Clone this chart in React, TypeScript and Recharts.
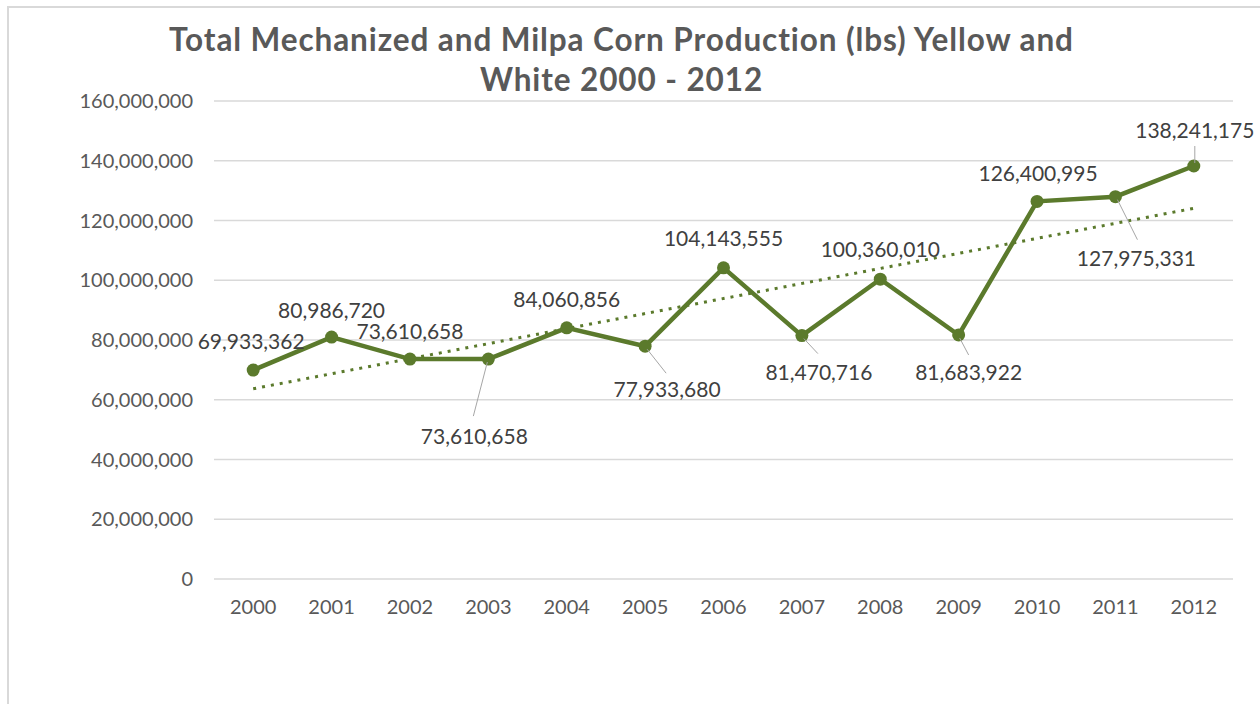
import React from 'react';
import { LineChart, Line, XAxis, YAxis, CartesianGrid, LabelList, ReferenceLine } from 'recharts';

const years = ['2000', '2001', '2002', '2003', '2004', '2005', '2006', '2007', '2008', '2009', '2010', '2011', '2012'];
const production = [
  69933362, 80986720, 73610658, 73610658, 84060856, 77933680, 104143555,
  81470716, 100360010, 81683922, 126400995, 127975331, 138241175,
];
const yTicks = [0, 20000000, 40000000, 60000000, 80000000, 100000000, 120000000, 140000000, 160000000];
const trendStartValue = 63670000;
const trendEndValue = 124090000;

const titleLines = ['Total Mechanized and Milpa Corn Production (lbs) Yellow and', 'White 2000 - 2012'];

const data = years.map((year, i) => ({ year, value: production[i] }));

// label layout (offsets from the point, and optional leader line end)
const labelLayout: { dx: number; dy: number; lx?: number; ly?: number; sx?: number; sy?: number }[] = [
  { dx: -2, dy: -30 },
  { dx: 0, dy: -28 },
  { dx: 0, dy: -29 },
  { dx: -14, dy: 76, sx: -1, sy: 3, lx: -15, ly: 57 },
  { dx: 0, dy: -29 },
  { dx: 22, dy: 42, sx: 2, sy: 3, lx: 21, ly: 27 },
  { dx: 0, dy: -30 },
  { dx: 17, dy: 36, sx: 2, sy: 3, lx: 16, ly: 18 },
  { dx: 0, dy: -31 },
  { dx: 10, dy: 37, sx: 1, sy: 3, lx: 10, ly: 20 },
  { dx: 1, dy: -29 },
  { dx: 21, dy: 61, sx: 2, sy: 3, lx: 22, ly: 43 },
  { dx: 1, dy: -37, sx: 1, sy: -3, lx: 1, ly: -20 },
];

const GREEN = '#5b7a2c';
const FONT = 'Lato, "Open Sans", sans-serif';

const fmt = (v: number) => v.toLocaleString('en-US');

const renderLabel = (props: any) => {
  const { x, y, value, index } = props;
  const l = labelLayout[index] || { dx: 0, dy: -29 };
  return (
    <g key={`lbl-${index}`}>
      {l.lx !== undefined && (
        <line
          x1={x + (l.sx || 0)}
          y1={y + (l.sy || 0)}
          x2={x + l.lx}
          y2={y + (l.ly || 0)}
          stroke="#a6a6a6"
          strokeWidth={1}
        />
      )}
      <text
        x={x + l.dx}
        y={y + l.dy}
        textAnchor="middle"
        dominantBaseline="central"
        fontFamily={FONT}
        fontSize={21}
        fill="#404040"
      >
        {fmt(Number(value))}
      </text>
    </g>
  );
};

export default function App() {
  return (
    <div
      style={{
        position: 'fixed',
        left: 0,
        top: 0,
        width: 1260,
        height: 704,
        background: '#ffffff',
        overflow: 'hidden',
      }}
    >
      <div
        style={{
          position: 'absolute',
          left: 7,
          top: 6,
          width: 1320,
          height: 800,
          border: '2px solid #d9d9d9',
          boxSizing: 'border-box',
        }}
      />
      <div
        style={{
          position: 'absolute',
          left: 0,
          top: 19,
          width: 1243,
          textAlign: 'center',
          fontFamily: FONT,
          fontWeight: 700,
          fontSize: 31.5,
          letterSpacing: 0.9,
          lineHeight: '40px',
          color: '#595959',
        }}
      >
        {titleLines.map((t) => (
          <div key={t}>{t}</div>
        ))}
      </div>
      <div style={{ position: 'absolute', left: 0, top: 0 }}>
        <LineChart
          width={1260}
          height={704}
          data={data}
          margin={{ top: 101, right: 27, bottom: 95, left: 0 }}
        >
          <CartesianGrid horizontal vertical={false} stroke="#d9d9d9" strokeWidth={1.5} />
          <XAxis
            dataKey="year"
            scale="band"
            height={30}
            axisLine={false}
            tickLine={false}
            tickSize={0}
            tickMargin={21}
            tick={{ fill: '#595959', fontSize: 20, fontFamily: FONT }}
            interval={0}
          />
          <YAxis
            width={214}
            domain={[0, 160000000]}
            ticks={yTicks}
            axisLine={false}
            tickLine={false}
            tickSize={0}
            tickMargin={21}
            tickFormatter={fmt}
            tick={{ fill: '#595959', fontSize: 20, fontFamily: FONT }}
            interval={0}
          />
          <Line
            dataKey="value"
            stroke={GREEN}
            strokeWidth={4.5}
            dot={{ r: 6.5, fill: GREEN, stroke: GREEN, strokeWidth: 0 }}
            isAnimationActive={false}
          >
            <LabelList dataKey="value" content={renderLabel} />
          </Line>
          <ReferenceLine
            segment={[
              { x: years[0], y: trendStartValue },
              { x: years[years.length - 1], y: trendEndValue },
            ]}
            stroke={GREEN}
            strokeWidth={3}
            strokeDasharray="3 6"
            ifOverflow="visible"
          />
        </LineChart>
      </div>
    </div>
  );
}
